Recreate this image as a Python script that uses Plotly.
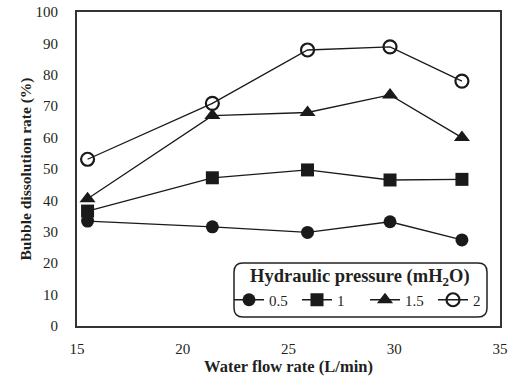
import plotly.graph_objects as go

flow = [15.5, 21.4, 25.9, 29.8, 33.2]
p05 = [33.4, 31.6, 29.8, 33.2, 27.4]
p1 = [36.6, 47.2, 49.7, 46.5, 46.7]
p15 = [40.5, 67.0, 68.0, 73.6, 60.0]
p2 = [53.1, 70.9, 87.9, 88.9, 78.0]
names = ["0.5", "1", "1.5", "2"]
series = [p05, p1, p15, p2]
symbols = ["circle", "square", "triangle-up", "circle-open"]
sizes = [13, 13, 14, 13]

FONT = "Liberation Serif"
L, R, T, B = 77, 10, 12, 55
W, H = 510 - L - R, 381 - T - B
def px(x): return (x - L) / W
def py(y): return 1 - (y - T) / H

fig = go.Figure()
for n, s, sym, sz in zip(names, series, symbols, sizes):
    fig.add_trace(go.Scatter(
        x=flow, y=s, name=n, mode="lines+markers",
        line=dict(color="#1a1a1a", width=1.3),
        marker=dict(symbol=sym, size=sz, color="#1a1a1a",
                    line=dict(color="#1a1a1a", width=2.2 if sym == "circle-open" else 0)),
    ))

fig.update_layout(
    width=510, height=381,
    margin=dict(l=L, r=R, t=T, b=B, autoexpand=False),
    paper_bgcolor="white", plot_bgcolor="white",
    font=dict(family=FONT, size=15, color="#231f20"),
    showlegend=True,
    legend=dict(
        orientation="h", x=px(229), y=py(300), xanchor="left", yanchor="middle",
        font=dict(size=15, family=FONT),
        bgcolor="rgba(0,0,0,0)", itemwidth=30,
        entrywidth=23, entrywidthmode="pixels",
    ),
    xaxis=dict(range=[15, 35], dtick=5, showgrid=False, zeroline=False, automargin=False,
               showline=True, linecolor="#333", linewidth=2, mirror=True, ticks="",
               ticklabelstandoff=8,
               title=dict(text="<b>Water flow rate (L/min)</b>", font=dict(size=16.5), standoff=2),
               tickfont=dict(size=15)),
    yaxis=dict(range=[0, 100], dtick=10, showgrid=False, zeroline=False, automargin=False,
               showline=True, linecolor="#333", linewidth=2, mirror=True, ticks="",
               ticklabelstandoff=14,
               title=dict(text="<b>Bubble dissolution rate (%)</b>", font=dict(size=15.5), standoff=0),
               tickfont=dict(size=15)),
)

fig.add_annotation(text="<b>Hydraulic pressure (mH<sub>2</sub>O)</b>", xref="paper", yref="paper",
                   x=px(360), y=py(277), xanchor="center", yanchor="middle", showarrow=False,
                   font=dict(size=18.5, family=FONT, color="#231f20"))

x0, x1, y0, y1, r = 234, 487, 263, 317, 9
pp = (f"M{px(x0+r)},{py(y0)} L{px(x1-r)},{py(y0)} Q{px(x1)},{py(y0)} {px(x1)},{py(y0+r)} "
      f"L{px(x1)},{py(y1-r)} Q{px(x1)},{py(y1)} {px(x1-r)},{py(y1)} "
      f"L{px(x0+r)},{py(y1)} Q{px(x0)},{py(y1)} {px(x0)},{py(y1-r)} "
      f"L{px(x0)},{py(y0+r)} Q{px(x0)},{py(y0)} {px(x0+r)},{py(y0)} Z")
fig.add_shape(type="path", path=pp, xref="paper", yref="paper",
              line=dict(color="#222", width=1.5), fillcolor="white", layer="below")

fig.write_html("out.html", config={"displayModeBar": False},
               post_script="document.body.style.margin='0';document.body.style.padding='0';")
